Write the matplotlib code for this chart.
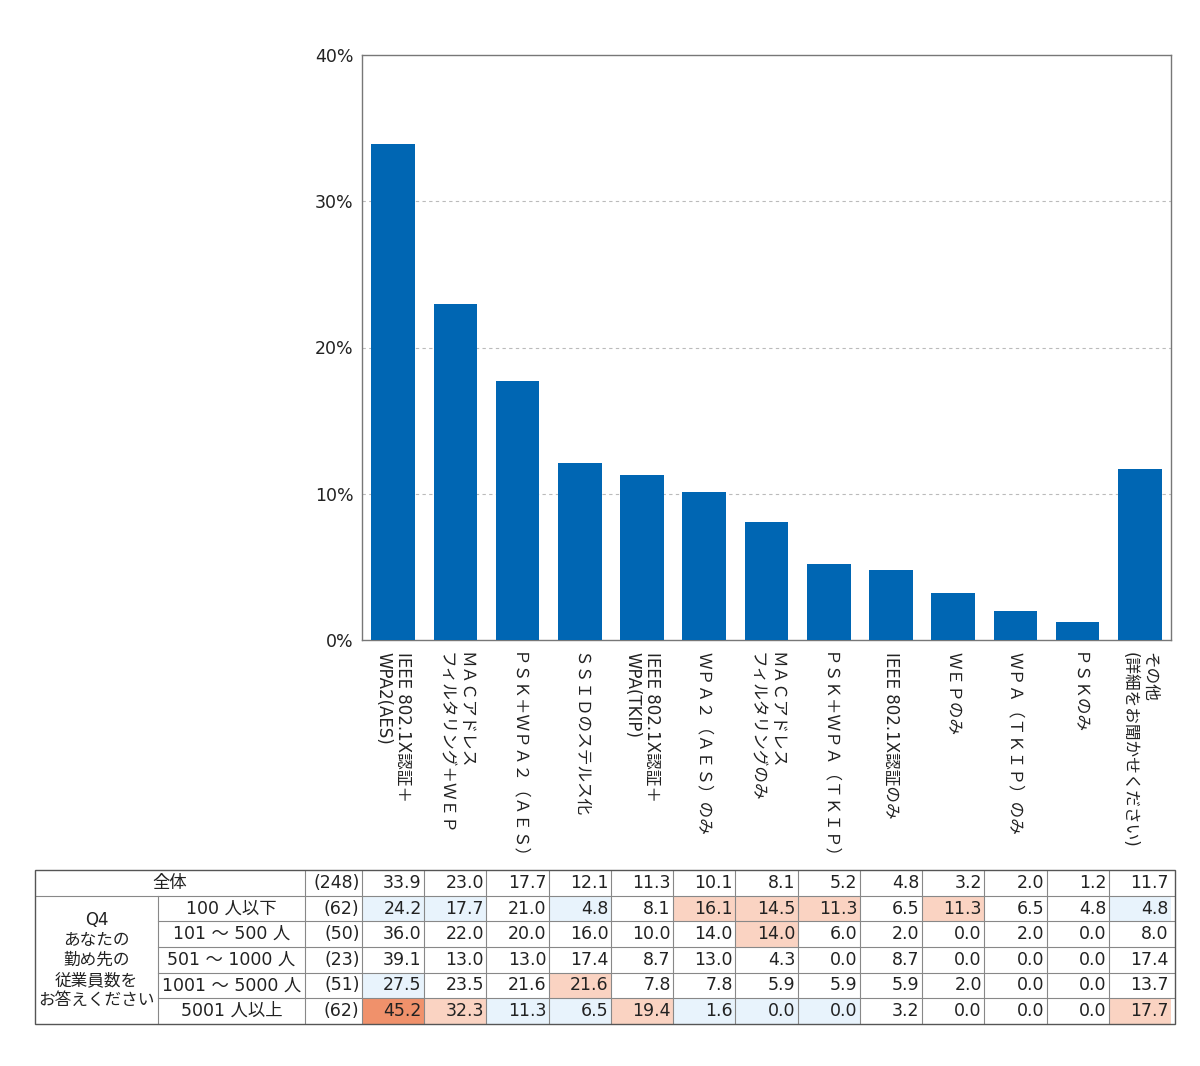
import numpy as np
import matplotlib.pyplot as plt
from matplotlib.patches import Rectangle

plt.rcParams['font.family'] = ['DejaVu Sans', 'Noto Sans CJK JP']

#%% Data

categories = ['IEEE 802.1X認証＋\nWPA2(AES)',
              'ＭＡＣアドレス\nフィルタリング＋ＷＥＰ',
              'ＰＳＫ＋ＷＰＡ２（ＡＥＳ）',
              'ＳＳＩＤのステルス化',
              'IEEE 802.1X認証＋\nWPA(TKIP)',
              'ＷＰＡ２（ＡＥＳ）のみ',
              'ＭＡＣアドレス\nフィルタリングのみ',
              'ＰＳＫ＋ＷＰＡ（ＴＫＩＰ）',
              'IEEE 802.1X認証のみ',
              'ＷＥＰのみ',
              'ＷＰＡ（ＴＫＩＰ）のみ',
              'ＰＳＫのみ',
              'その他\n(詳細をお聞かせください)']

total_label = '全体'
total_n = 248
total = [33.9, 23.0, 17.7, 12.1, 11.3, 10.1, 8.1, 5.2, 4.8, 3.2, 2.0, 1.2, 11.7]

group_label = 'Q4\nあなたの\n勤め先の\n従業員数を\nお答えください'
row_labels = ['100 人以下', '101 ～ 500 人', '501 ～ 1000 人', '1001 ～ 5000 人', '5001 人以上']
row_n = [62, 50, 23, 51, 62]
r_100 = [24.2, 17.7, 21.0, 4.8, 8.1, 16.1, 14.5, 11.3, 6.5, 11.3, 6.5, 4.8, 4.8]
r_500 = [36.0, 22.0, 20.0, 16.0, 10.0, 14.0, 14.0, 6.0, 2.0, 0.0, 2.0, 0.0, 8.0]
r_1000 = [39.1, 13.0, 13.0, 17.4, 8.7, 13.0, 4.3, 0.0, 8.7, 0.0, 0.0, 0.0, 17.4]
r_5000 = [27.5, 23.5, 21.6, 21.6, 7.8, 7.8, 5.9, 5.9, 5.9, 2.0, 0.0, 0.0, 13.7]
r_over = [45.2, 32.3, 11.3, 6.5, 19.4, 1.6, 0.0, 0.0, 3.2, 0.0, 0.0, 0.0, 17.7]
rows = [r_100, r_500, r_1000, r_5000, r_over]

yticks = [0, 10, 20, 30, 40]

#%% Style

W, H = 1200, 1066
bar_color = '#0066b3'
txt = '#222222'
frame = '#777777'
c_high = '#f0916b'
c_up = '#fad3c2'
c_down = '#e8f3fc'

fig = plt.figure(figsize=(W / 100, H / 100), dpi=100)

#%% Bar chart

ax_l, ax_r, ax_t, ax_b = 362, 1171, 55, 640
ax = fig.add_axes([ax_l / W, 1 - ax_b / H, (ax_r - ax_l) / W, (ax_b - ax_t) / H])
x = np.arange(len(categories))
ax.bar(x, total, width=0.7, color=bar_color, zorder=3)
ax.set_xlim(-0.5, len(categories) - 0.5)
ax.set_ylim(0, 40)
ax.set_yticks(yticks)
ax.set_yticklabels(['%d%%' % v for v in yticks], fontsize=12.5, color=txt)
for v in yticks[1:-1]:
    ax.axhline(v, color='#bbbbbb', lw=0.8, ls=(0, (3, 3)), zorder=1)
ax.set_xticks(x)
ax.set_xticklabels(categories, rotation=270, ha='center', va='top',
                   multialignment='left', fontsize=12, color=txt,
                   linespacing=1.15)
ax.tick_params(axis='both', length=0)
ax.tick_params(axis='x', pad=9)
ax.tick_params(axis='y', pad=6)
for s in ax.spines.values():
    s.set_color(frame)
    s.set_linewidth(1.0)

#%% Table

slot = (ax_r - ax_l) / len(categories)
tb_l, tb_r, tb_t, tb_b = 35, 1175, 870, 1024
def px2u(px):
    return -0.5 + (px - ax_l) / slot

axt = fig.add_axes([tb_l / W, 1 - tb_b / H, (tb_r - tb_l) / W, (tb_b - tb_t) / H])
x0, x1 = px2u(tb_l), px2u(tb_r)
axt.set_xlim(x0, x1)
axt.set_ylim(6, 0)
axt.axis('off')

c_lab2 = px2u(158)
c_n = px2u(305)
c_val = -0.5
nrow = 6
fs = 12.5
fs_j = 12.5
line_c = '#888888'

# cell colours
for r, vals in enumerate(rows):
    if row_n[r] < 30:
        continue
    for j, v in enumerate(vals):
        d = v - total[j]
        col = None
        if d >= 10:
            col = c_high
        elif d >= 5:
            col = c_up
        elif d <= -5:
            col = c_down
        if col:
            axt.add_patch(Rectangle((j - 0.5, r + 1), 1, 1, facecolor=col,
                                    edgecolor='none', zorder=1))

# grid lines
for r in range(1, nrow):
    xs = c_lab2 if r > 1 else x0
    axt.plot([xs, x1], [r, r], color=line_c, lw=0.8, zorder=2)
axt.plot([c_lab2, c_lab2], [1, nrow], color=line_c, lw=0.8, zorder=2)
axt.plot([c_n, c_n], [0, nrow], color=line_c, lw=0.8, zorder=2)
for j in range(len(categories)):
    axt.plot([j - 0.5, j - 0.5], [0, nrow], color=line_c, lw=0.8, zorder=2)
axt.add_patch(Rectangle((x0, 0), x1 - x0, nrow, fill=False,
                        edgecolor='#555555', lw=1.0, zorder=3, clip_on=False))

pad = 0.04
axt.text((x0 + c_n) / 2, 0.5, total_label, ha='center', va='center', fontsize=fs_j, color=txt)
axt.text(c_val - pad, 0.5, '(%d)' % total_n, ha='right', va='center', fontsize=fs, color=txt)
for j, v in enumerate(total):
    axt.text(j + 0.5 - pad, 0.5, '%.1f' % v, ha='right', va='center', fontsize=fs, color=txt)

axt.text((x0 + c_lab2) / 2, 3.5, group_label, ha='center', va='center',
         fontsize=12, color=txt, linespacing=1.15)
for r, vals in enumerate(rows):
    yc = r + 1.5
    axt.text((c_lab2 + c_n) / 2, yc, row_labels[r], ha='center', va='center', fontsize=fs_j, color=txt)
    axt.text(c_val - pad, yc, '(%d)' % row_n[r], ha='right', va='center', fontsize=fs, color=txt)
    for j, v in enumerate(vals):
        axt.text(j + 0.5 - pad, yc, '%.1f' % v, ha='right', va='center', fontsize=fs, color=txt)

plt.savefig('out.png', dpi=100)
